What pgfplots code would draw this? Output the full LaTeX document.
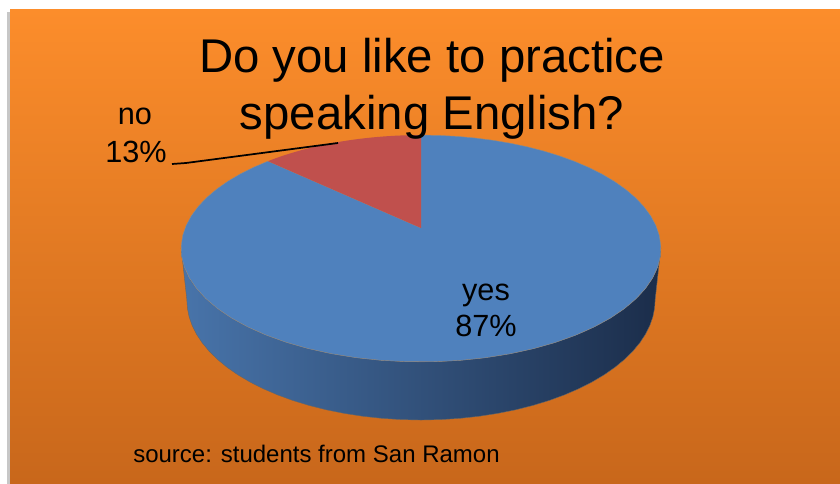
\documentclass[border=0pt]{standalone}
\usepackage{pgfplots}
\pgfplotsset{compat=1.18}
\usepackage{fontspec}
\setmainfont{Liberation Sans}
\definecolor{bgtop}{RGB}{252,141,43}
\definecolor{bgbot}{RGB}{200,103,27}
\definecolor{pieblue}{RGB}{79,129,189}
\definecolor{piered}{RGB}{192,80,77}
\definecolor{sideL}{RGB}{72,116,170}
\definecolor{sideR}{RGB}{27,45,74}
\def\pno{13}
\def\pyes{87}
\begin{document}
\begin{tikzpicture}
\begin{axis}[
  scale only axis, width=630pt, height=363pt,
  xmin=0, xmax=840, ymin=0, ymax=484, y dir=reverse,
  hide axis, clip=false,
  declare function={
    px(\r,\a,\h)=421+1156*\r*cos(\a)/(4.9+0.885*\r*sin(\a)+0.465*\h);
    py(\r,\a,\h)=228-1156*(0.465*\r*sin(\a)-0.885*\h)/(4.9+0.885*\r*sin(\a)+0.465*\h);
    rr(\t)=((\t<0.5)||(\t>61.5))?0:1;
    hh(\t)=(\t<40.5)?0:0.25;
    sa(\t)=(\t<40.5)?(190+4*\t):(350-4*(\t-41));
  },
]
% background
\fill[white] (axis cs:0,0) rectangle (axis cs:840,484);
\fill[black!22] (axis cs:7,12) rectangle (axis cs:10,484);
\fill[top color=bgtop, bottom color=bgbot] (axis cs:10,10) rectangle (axis cs:840,484);

% side of the pie (front, visible part)
\addplot[draw=black!60, line width=0.3pt, left color=sideL, right color=sideR, samples at={0,1,...,81}]
  ({px(1,sa(x),hh(x))},{py(1,sa(x),hh(x))}) -- cycle;

% top face: yes slice
\addplot[fill=pieblue, draw=black!45, line width=0.3pt, samples at={0,1,...,62}]
  ({px(rr(x),90+3.6*\pno+3.6*\pyes*(x-1)/60,0)},{py(rr(x),90+3.6*\pno+3.6*\pyes*(x-1)/60,0)}) -- cycle;
% top face: no slice
\addplot[fill=piered, draw=none, samples at={0,1,...,62}]
  ({px(rr(x),90+3.6*\pno*(x-1)/60,0)},{py(rr(x),90+3.6*\pno*(x-1)/60,0)}) -- cycle;

% leader line
\addplot[black, line width=1.3pt, mark=none] coordinates {(172,164) (186,163) (338,143)};

% texts
\node[anchor=base, inner sep=0pt, font=\fontsize{35.5}{42}\selectfont] at (axis cs:432,73) {Do you like to practice};
\node[anchor=base, inner sep=0pt, font=\fontsize{35.5}{42}\selectfont] at (axis cs:432,130) {speaking English?};
\node[anchor=base, inner sep=0pt, font=\fontsize{23}{28}\selectfont] at (axis cs:135,125) {no};
\node[anchor=base, inner sep=0pt, font=\fontsize{23}{28}\selectfont] at (axis cs:136,163) {13\%};
\node[anchor=base, inner sep=0pt, font=\fontsize{23}{28}\selectfont] at (axis cs:486,301) {yes};
\node[anchor=base, inner sep=0pt, font=\fontsize{23}{28}\selectfont] at (axis cs:486,337) {87\%};
\node[anchor=base west, inner sep=0pt, font=\fontsize{18}{22}\selectfont] at (axis cs:133,463) {source: students from San Ramon};
\end{axis}
\end{tikzpicture}
\end{document}
